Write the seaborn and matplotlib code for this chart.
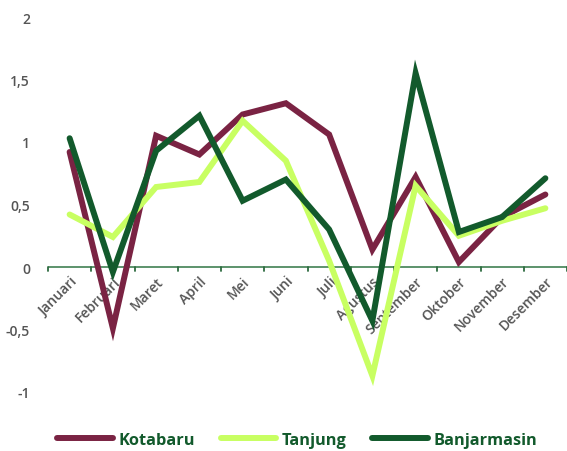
import numpy as np
import pandas as pd
import matplotlib
matplotlib.use("Agg")
import matplotlib.pyplot as plt
import seaborn as sns
from matplotlib.ticker import FuncFormatter
from matplotlib.lines import Line2D

months = ["Januari", "Februari", "Maret", "April", "Mei", "Juni", "Juli",
          "Agustus", "September", "Oktober", "November", "Desember"]
kotabaru = [0.92, -0.49, 1.05, 0.90, 1.22, 1.31, 1.06, 0.14, 0.72, 0.04, 0.40, 0.58]
tanjung = [0.42, 0.24, 0.64, 0.68, 1.17, 0.85, 0.05, -0.87, 0.65, 0.25, 0.37, 0.47]
banjarmasin = [1.03, -0.04, 0.93, 1.21, 0.53, 0.70, 0.30, -0.43, 1.55, 0.28, 0.40, 0.71]
series_names = ["Kotabaru", "Tanjung", "Banjarmasin"]
colors = ["#7A2343", "#C8FF62", "#125A2C"]
yticks = [-1, -0.5, 0, 0.5, 1, 1.5, 2]

df = pd.DataFrame({"Bulan": months, "Kotabaru": kotabaru,
                   "Tanjung": tanjung, "Banjarmasin": banjarmasin})
long = df.melt(id_vars="Bulan", var_name="Kota", value_name="Nilai")
long["x"] = long["Bulan"].map({m: i for i, m in enumerate(months)})

sns.set_theme(style="white")
plt.rcParams["font.family"] = ["Open Sans", "DejaVu Sans"]

fig = plt.figure(figsize=(5.67, 4.52), dpi=100)
ax = fig.add_axes([48 / 567, 59 / 452, 519 / 567, 375 / 452])

sns.lineplot(data=long, x="x", y="Nilai", hue="Kota", hue_order=series_names,
             palette=colors, linewidth=4.3, ax=ax, legend=False, sort=False,
             solid_capstyle="round", solid_joinstyle="miter")
for ln in ax.lines:
    ln.set_clip_on(False)

ax.set_xlim(-0.5, len(months) - 0.5)
ax.set_ylim(-1, 2)
ax.set_xlabel("")
ax.set_ylabel("")

for s in ["top", "right", "left", "bottom"]:
    ax.spines[s].set_visible(False)
ax.axhline(0, color="#4F8A60", linewidth=1.3, zorder=1)

ax.set_yticks(yticks)
ax.yaxis.set_major_formatter(FuncFormatter(lambda v, p: f"{v:g}".replace(".", ",")))
ax.tick_params(axis="y", length=0, pad=13, labelsize=10, labelcolor="#555555")

ax.set_xticks(range(len(months)))
ax.set_xticklabels(months, rotation=45, ha="right", rotation_mode="anchor",
                   fontsize=10, color="#555555")
ax.tick_params(axis="x", which="major", length=0, pad=5)
for lbl in ax.get_xticklabels():
    lbl.set_y(1 / 3)
# month boundary ticks on the zero line
for b in np.arange(-0.5, len(months), 1.0):
    ax.plot([b, b], [0, -0.035], color="#2E6B40", linewidth=1.3, clip_on=False, zorder=1)

for lbl in ax.get_yticklabels() + ax.get_xticklabels():
    lbl.set_fontweight("semibold")

handles = [Line2D([0], [0], color=c, linewidth=4.3, solid_capstyle="round") for c in colors]
leg = fig.legend(handles, series_names, loc="center", bbox_to_anchor=(0.524, 11 / 452),
                 ncol=3, frameon=False, handlelength=3.4, handletextpad=0.3,
                 columnspacing=1.6, fontsize=11.8)
for t in leg.get_texts():
    t.set_color("#125A2C")
    t.set_fontweight("bold")

fig.savefig("out.png", dpi=100)
